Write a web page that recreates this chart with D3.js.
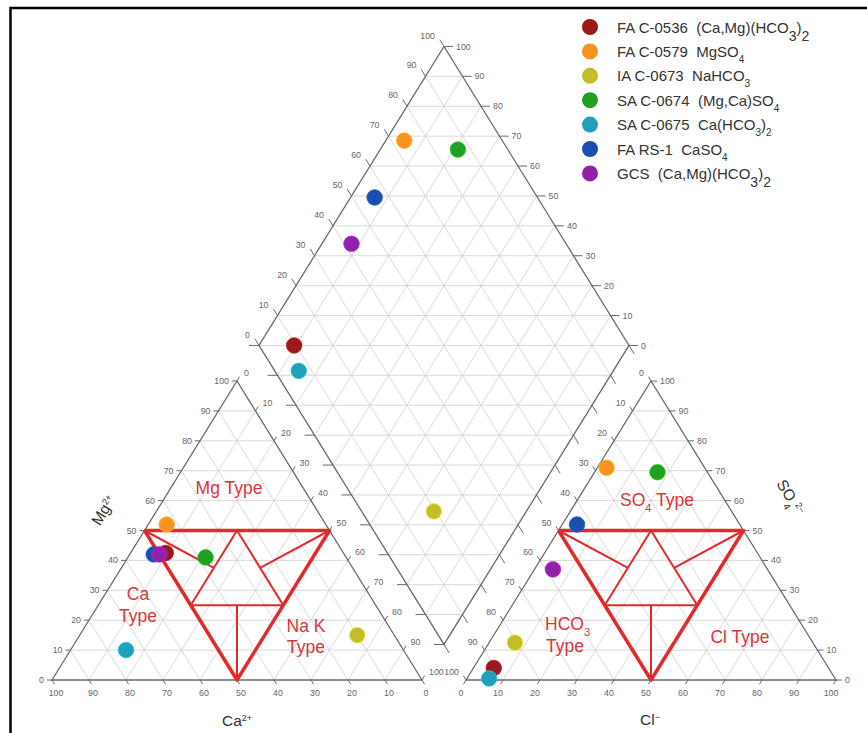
<!DOCTYPE html>
<html>
<head>
<meta charset="utf-8">
<script src="https://cdn.jsdelivr.net/npm/d3@7"></script>
<style>
body { margin: 0; background: #fff; }
svg { display: block; font-family: "Liberation Sans", Arial, sans-serif; }
.edge { fill: none; stroke: #6a6a6a; stroke-width: 1.3; }
.grid { fill: none; stroke: #cfcfcf; stroke-width: 0.8; }
.tick { stroke: #6a6a6a; stroke-width: 1; }
.ticklabel { font-size: 8.8px; fill: #666; }
.region { fill: none; stroke: #e22a2a; stroke-linejoin: round; }
.typelabel { font-size: 17.5px; fill: #d8363c; }
.axistitle { font-size: 15.5px; fill: #333; }
.legend { font-size: 15px; fill: #333; }
</style>
</head>
<body>
<script>
// samples, in legend order
const samples = ["FA C-0536", "FA C-0579", "IA C-0673", "SA C-0674", "SA C-0675", "FA RS-1", "GCS"]
const formulas = ["(Ca,Mg)(HCO3)2", "MgSO4", "NaHCO3", "(Mg,Ca)SO4", "Ca(HCO3)2", "CaSO4", "(Ca,Mg)(HCO3)2"]
const colors = ["#9a1a1a", "#f7931e", "#c2be2a", "#20a020", "#22a0b9", "#1a4fae", "#9221aa"]

// cations, % meq
const caPct = [48, 43, 10, 38, 75, 51.5, 50]
const mgPct = [42.5, 52, 15, 41, 10, 42, 42]
const naPct = [9.5, 5, 75, 21, 15, 6.5, 8]

// anions, % meq
const hco3Pct = [90.5, 26.5, 80.5, 13.5, 93.5, 44, 58]
const so4Pct = [4, 71, 12.5, 69.5, 0.5, 52, 37]
const clPct = [5.5, 2.5, 7, 17, 6, 4, 5]

const ticks = [0, 10, 20, 30, 40, 50, 60, 70, 80, 90, 100]

// hydrochemical type boundaries (ternary points, same layout in both triangles)
const typeOutline = [[50, 50, 0], [0, 50, 50], [50, 0, 50], [50, 50, 0]]
const typeLines = [
    [[25, 50, 25], [50, 25, 25]],
    [[25, 50, 25], [25, 25, 50]],
    [[50, 25, 25], [25, 25, 50]],
    [[37.5, 25, 37.5], [50, 0, 50]],
    [[50, 50, 0], [37.5, 37.5, 25]],
    [[0, 50, 50], [25, 37.5, 37.5]]
]

const WIDTH = 867
const HEIGHT = 733

const L0 = 52
const R0 = 466
const SIDE = 370
const TRI_H = 299
const BASE = 680

const svg = d3.select("body")
    .append("svg")
    .attr("width", WIDTH)
    .attr("height", HEIGHT)

// frame
svg.append("path")
    .attr("d", "M10.5,740 V8 H880")
    .attr("fill", "none")
    .attr("stroke", "#000")
    .attr("stroke-width", 2.5)

const xL = d3.scaleLinear().domain([0, 100]).range([L0, L0 + SIDE])
const xR = d3.scaleLinear().domain([0, 100]).range([R0, R0 + SIDE])
const yT = d3.scaleLinear().domain([0, 100]).range([BASE, BASE - TRI_H])

const cat = (ca, mg, na) => [xL(na + mg / 2), yT(mg)]
const an = (hc, so, cl) => [xR(cl + so / 2), yT(so)]
const OFF = (R0 - L0) / SIDE * 100
const dia = (n, a) => {
    const t = OFF + (100 - a) - n
    return [xL(n + t / 2), yT(t)]
}

const line = d3.line()
const gGrid = svg.append("g")
const gEdge = svg.append("g")
const gTick = svg.append("g")
const gRegion = svg.append("g")
const gPts = svg.append("g")

const inner = [10, 20, 30, 40, 50, 60, 70, 80, 90]

// grids
inner.forEach(v => {
    gGrid.append("path").attr("class", "grid").attr("d", line([cat(100 - v, v, 0), cat(0, v, 100 - v)]))
    gGrid.append("path").attr("class", "grid").attr("d", line([cat(v, 0, 100 - v), cat(v, 100 - v, 0)]))
    gGrid.append("path").attr("class", "grid").attr("d", line([cat(100 - v, 0, v), cat(0, 100 - v, v)]))
    gGrid.append("path").attr("class", "grid").attr("d", line([an(100 - v, v, 0), an(0, v, 100 - v)]))
    gGrid.append("path").attr("class", "grid").attr("d", line([an(v, 0, 100 - v), an(v, 100 - v, 0)]))
    gGrid.append("path").attr("class", "grid").attr("d", line([an(100 - v, 0, v), an(0, 100 - v, v)]))
    gGrid.append("path").attr("class", "grid").attr("d", line([dia(v, 0), dia(v, 100)]))
    gGrid.append("path").attr("class", "grid").attr("d", line([dia(0, v), dia(100, v)]))
})
d3.range(10, 200, 10).forEach(d => {
    const seg = d <= 100
        ? [dia(100 - d, 100), dia(100, 100 - d)]
        : [dia(0, 200 - d), dia(200 - d, 0)]
    gGrid.append("path").attr("class", "grid").attr("d", line(seg))
})

// outlines
gEdge.append("path").attr("class", "edge")
    .attr("d", line([cat(100, 0, 0), cat(0, 100, 0), cat(0, 0, 100)]) + "Z")
gEdge.append("path").attr("class", "edge")
    .attr("d", line([an(100, 0, 0), an(0, 100, 0), an(0, 0, 100)]) + "Z")
gEdge.append("path").attr("class", "edge")
    .attr("d", line([dia(0, 100), dia(0, 0), dia(100, 0), dia(100, 100)]) + "Z")

// ticks
const nrm = Math.hypot(SIDE / 2, TRI_H)
const DIR = {
    left: [-1, 0], right: [1, 0],
    upR: [SIDE / 2 / nrm, -TRI_H / nrm], upL: [-SIDE / 2 / nrm, -TRI_H / nrm],
    dnR: [SIDE / 2 / nrm, TRI_H / nrm], dnL: [-SIDE / 2 / nrm, TRI_H / nrm]
}
function tick(p, dir, len, label, dx, dy, anchor) {
    gTick.append("line").attr("class", "tick")
        .attr("x1", p[0]).attr("y1", p[1])
        .attr("x2", p[0] + dir[0] * len).attr("y2", p[1] + dir[1] * len)
    if (label !== null) {
        gTick.append("text").attr("class", "ticklabel")
            .attr("x", p[0] + dx).attr("y", p[1] + dy)
            .attr("dy", "0.35em")
            .attr("text-anchor", anchor)
            .text(label)
    }
}
ticks.forEach(v => {
    tick(cat(100 - v, v, 0), DIR.left, 5, v, -8, 0, "end")
    tick(cat(v, 0, 100 - v), DIR.dnR, 5, v, 4, 13, "middle")
    tick(cat(0, 100 - v, v), DIR.upR, 5, v, 7, -8, "start")
    tick(an(v, 100 - v, 0), DIR.upL, 5, v, -7, -8, "end")
    tick(an(0, v, 100 - v), DIR.right, 6, v, 9, 0, "start")
    tick(an(100 - v, 0, v), DIR.dnL, 5, v, -5, 13, "middle")
    tick(dia(0, 100 - v), DIR.upL, 8, v, -9, -11, "end")
    tick(dia(100 - v, 0), DIR.right, 9, v, 12, 0, "start")
    tick(dia(v, 100), DIR.left, 10, null)
    tick(dia(100, v), DIR.dnR, 10, null)
})

// type regions
const regionSets = [cat, an]
regionSets.forEach(f => {
    const pt = p => f(p[0], p[1], p[2])
    gRegion.append("path").attr("class", "region").attr("stroke-width", 3.5)
        .attr("d", line(typeOutline.map(pt)))
    typeLines.forEach(seg => {
        gRegion.append("path").attr("class", "region").attr("stroke-width", 2)
            .attr("d", line(seg.map(pt)))
    })
})

// chemistry text with digit subscripts
function chem(sel, str, sub) {
    str.split(/(\d)/).filter(s => s.length).forEach(s => {
        if (/\d/.test(s)) {
            sel.append("tspan").attr("baseline-shift", "sub").attr("font-size", sub).text(s)
        } else {
            sel.append("tspan").text(s)
        }
    })
}

const typeText = [
    ["Mg Type", 229, 494, "middle"], ["Ca", 138, 600, "middle"], ["Type", 138, 622, "middle"],
    ["Na K", 306, 632, "middle"], ["Type", 306, 653, "middle"],
    ["SO4 Type", 657, 506, "middle"], ["HCO3", 545, 630, "start"], ["Type", 546, 652, "start"],
    ["Cl Type", 740, 643, "middle"]
]
typeText.forEach(t => {
    const txt = svg.append("text").attr("class", "typelabel")
        .attr("x", t[1]).attr("y", t[2]).attr("text-anchor", t[3])
    chem(txt, t[0], "11px")
})

// axis titles
function ionTitle(x, y, rot, base, sup) {
    const t = svg.append("text").attr("class", "axistitle")
        .attr("text-anchor", "middle")
        .attr("transform", "translate(" + x + "," + y + ") rotate(" + rot + ")")
    chem(t, base, "10px")
    t.append("tspan").attr("baseline-shift", "super").attr("font-size", "9px").text(sup)
}
const ang = Math.atan2(TRI_H, SIDE / 2) * 180 / Math.PI
ionTitle(237, 726, 0, "Ca", "2+")
ionTitle(650, 725, 0, "Cl", "−")
ionTitle(108, 513, -ang, "Mg", "2+")
ionTitle(786, 500, ang, "SO4", "2−")

// sample points
samples.forEach((s, i) => {
    const pts = [
        cat(caPct[i], mgPct[i], naPct[i]),
        an(hco3Pct[i], so4Pct[i], clPct[i]),
        dia(naPct[i], hco3Pct[i])
    ]
    pts.forEach(p => {
        gPts.append("circle")
            .attr("cx", p[0]).attr("cy", p[1]).attr("r", 7.8)
            .attr("fill", colors[i])
            .attr("stroke", d3.color(colors[i]).brighter(0.6))
            .attr("stroke-width", 0.8)
    })
})

// legend
const yLeg = d3.scaleLinear().domain([0, 1]).range([27, 51.4])
samples.forEach((s, i) => {
    svg.append("circle")
        .attr("cx", 590).attr("cy", yLeg(i)).attr("r", 8)
        .attr("fill", colors[i])
    const t = svg.append("text").attr("class", "legend")
        .attr("x", 617).attr("y", yLeg(i) + 5.5)
        .attr("xml:space", "preserve")
    t.append("tspan").text(s + "  ")
    chem(t, formulas[i], i === 0 || i === 6 ? "14px" : "10px")
})
</script>
</body>
</html>
